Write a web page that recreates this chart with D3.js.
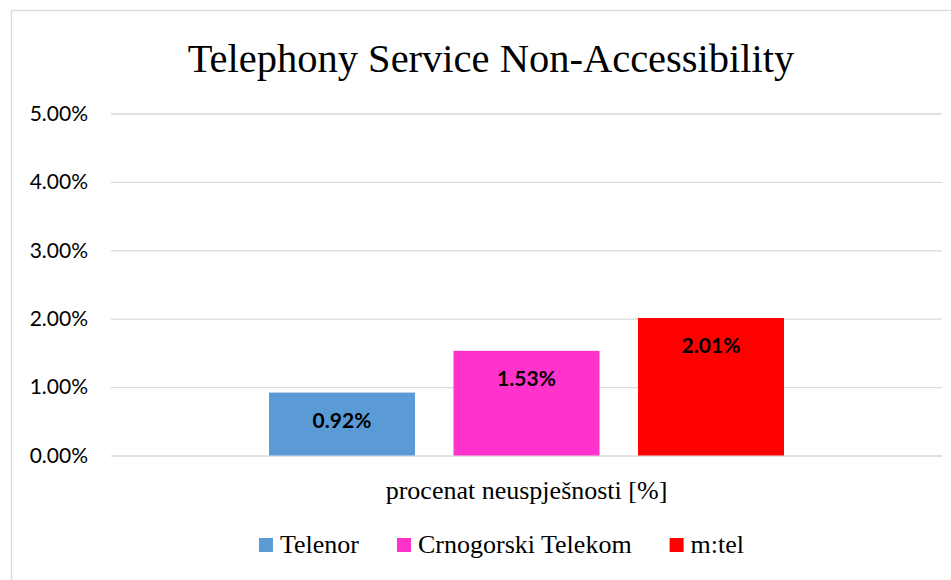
<!DOCTYPE html>
<meta charset="utf-8">
<style>
body { margin: 0; background: #fff; }
.grid line { stroke: #d9d9d9; stroke-width: 1.3; }
.grid path { display: none; }
.axis--y text { font-family: Lato, "Open Sans", sans-serif; font-size: 21px; fill: #000; }
.axis--y path, .axis--y line { display: none; }
.serif { font-family: "Liberation Serif", "DejaVu Serif", serif; fill: #000; }
.value { font-family: Lato, "Open Sans", sans-serif; font-weight: bold; font-size: 21px; fill: #000; }
</style>
<svg width="951" height="580"></svg>
<script src="https://d3js.org/d3.v7.min.js"></script>
<script>
var category = ["procenat neuspješnosti [%]"];
var operators = ["Telenor", "Crnogorski Telekom", "m:tel"];
var values = [0.92, 1.53, 2.01];
var colors = ["#5b9bd5", "#ff33cc", "#ff0000"];
var yTicks = [0, 1, 2, 3, 4, 5];

var svg = d3.select("svg");

// frame (only left/top edges visible in picture)
svg.append("rect")
    .attr("x", 11.5).attr("y", 10.5)
    .attr("width", 1000).attr("height", 1000)
    .attr("fill", "none")
    .attr("stroke", "#d9d9d9")
    .attr("stroke-width", 1.3);

var plotLeft = 111, plotRight = 942, plotTop = 113.5, plotBottom = 455.5;

var y = d3.scaleLinear().domain([0, 5]).range([plotBottom, plotTop]);

var x0 = d3.scaleBand().domain(category).range([plotLeft, plotRight])
    .paddingInner(0).paddingOuter(0.3068);
var x1 = d3.scaleBand().domain(operators).range([0, x0.bandwidth()])
    .paddingInner(0.2087).paddingOuter(0);

svg.append("g")
    .attr("class", "grid")
    .attr("transform", "translate(" + plotLeft + ",0)")
    .call(d3.axisLeft(y).tickValues(yTicks).tickSize(-(plotRight - plotLeft)).tickFormat(""));

svg.append("g")
    .attr("class", "axis axis--y")
    .attr("transform", "translate(" + plotLeft + ",0)")
    .call(d3.axisLeft(y).tickValues(yTicks).tickSize(0).tickPadding(23)
      .tickFormat(function(d) { return d.toFixed(2) + "%"; }));

var g = svg.append("g")
    .attr("transform", "translate(" + x0(category[0]) + ",0)");

g.selectAll(".bar")
  .data(operators)
  .enter().append("rect")
    .attr("class", "bar")
    .attr("x", function(d) { return x1(d); })
    .attr("y", function(d, i) { return y(values[i]); })
    .attr("width", x1.bandwidth())
    .attr("height", function(d, i) { return plotBottom - y(values[i]); })
    .attr("fill", function(d, i) { return colors[i]; });

g.selectAll(".value")
  .data(operators)
  .enter().append("text")
    .attr("class", "value")
    .attr("x", function(d) { return x1(d) + x1.bandwidth() / 2; })
    .attr("y", function(d, i) { return y(values[i]) + 35; })
    .attr("text-anchor", "middle")
    .text(function(d, i) { return values[i].toFixed(2) + "%"; });

// title
svg.append("text")
    .attr("class", "serif")
    .attr("x", 491).attr("y", 72)
    .attr("text-anchor", "middle")
    .style("font-size", "40.5px")
    .text("Telephony Service Non-Accessibility");

// category label
svg.append("text")
    .attr("class", "serif")
    .attr("x", x0(category[0]) + x0.bandwidth() / 2).attr("y", 499)
    .attr("text-anchor", "middle")
    .style("font-size", "26px")
    .text(category[0]);

// legend
var legend = svg.append("g");
var lx = 0;
operators.forEach(function(name, i) {
  var item = legend.append("g").attr("transform", "translate(" + lx + ",0)");
  item.append("rect")
      .attr("x", 0).attr("y", 538)
      .attr("width", 14).attr("height", 14)
      .attr("fill", colors[i]);
  var t = item.append("text")
      .attr("class", "serif")
      .attr("x", 21).attr("y", 553)
      .style("font-size", "26px")
      .text(name);
  lx += 21 + t.node().getComputedTextLength() + 38;
});
var lw = lx - 38;
legend.attr("transform", "translate(" + (501.5 - lw / 2) + ",0)");
</script>
